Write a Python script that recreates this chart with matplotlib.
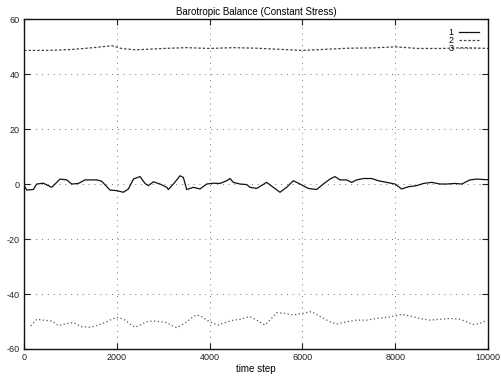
import matplotlib
matplotlib.use("Agg")
import matplotlib.pyplot as plt
import numpy as np

plt.rcParams['font.family'] = ['Liberation Sans', 'DejaVu Sans']
plt.rcParams['axes.unicode_minus'] = False

# series 1 (solid, around 0)
t1 = [0, 57, 201, 273, 417, 596, 776, 920, 1027, 1171, 1315, 1566, 1674, 1853, 1997,
      2141, 2249, 2357, 2500, 2608, 2680, 2788, 2931, 3075, 3111, 3219, 3362, 3434,
      3506, 3650, 3793, 3937, 4081, 4224, 4368, 4440, 4511, 4655, 4799, 4870, 5014,
      5229, 5373, 5517, 5660, 5804, 5948, 6127, 6307, 6451, 6594, 6702, 6810, 6953,
      7061, 7169, 7313, 7492, 7636, 7816, 7995, 8139, 8283, 8462, 8606, 8786, 8966,
      9109, 9289, 9433, 9612, 9756, 9935, 10000]
v1 = [-0.5, -2.2, -2.0, 0.0, 0.3, -1.2, 1.8, 1.5, 0.0, 0.2, 1.5, 1.5, 1.0, -2.2, -2.4,
      -3.0, -1.8, 1.8, 2.7, 0.2, -0.6, 0.8, 0.0, -1.2, -2.0, 0.0, 3.0, 2.4,
      -2.0, -1.2, -1.8, 0.0, 0.3, 0.2, 1.2, 2.0, 0.6, 0.0, -0.2, -1.2, -1.6,
      0.6, -1.2, -3.0, -1.2, 1.2, 0.0, -1.6, -2.0, 0.0, 1.8, 2.7, 1.5, 1.5,
      0.6, 1.5, 2.0, 2.0, 1.2, 0.6, 0.0, -1.8, -1.0, -0.6, 0.2, 0.6, 0.0,
      0.0, 0.2, 0.0, 1.5, 1.8, 1.6, 1.6]

# series 2 (dashed, around 49)
t2 = [0, 500, 1000, 1500, 1900, 2100, 2400, 3000, 3500, 4000, 4500, 5000, 5500,
      6000, 6500, 7000, 7500, 8000, 8500, 9000, 9500, 10000]
v2 = [48.6, 48.6, 48.9, 49.6, 50.3, 49.3, 48.8, 49.3, 49.6, 49.3, 49.6, 49.4, 49.0,
      48.6, 49.0, 49.4, 49.5, 49.9, 49.3, 49.3, 49.6, 49.3]

# series 3 (dotted, around -50)
t3 = [144, 273, 417, 596, 740, 884, 1063, 1243, 1422, 1566, 1782, 1925, 2033, 2177,
      2285, 2393, 2500, 2644, 2788, 2931, 3075, 3183, 3290, 3398, 3506, 3650, 3721,
      3829, 3937, 4081, 4189, 4332, 4512, 4655, 4870, 5014, 5193, 5301, 5445, 5588,
      5804, 6019, 6199, 6379, 6594, 6738, 6953, 7169, 7385, 7600, 7816, 7995, 8139,
      8319, 8534, 8750, 8965, 9181, 9396, 9540, 9684, 9827, 9935]
v3 = [-51.6, -49.2, -49.5, -49.8, -51.5, -50.9, -50.4, -51.9, -52.1, -51.5, -50.1,
      -48.9, -48.5, -49.5, -50.9, -52.1, -51.3, -50.1, -49.8, -50.1, -50.4, -51.5,
      -52.2, -51.3, -50.1, -48.2, -47.6, -48.2, -49.5, -50.7, -51.3, -50.4, -49.5,
      -49.2, -48.2, -49.5, -51.3, -49.5, -46.8, -47.0, -47.6, -47.0, -46.4, -48.2,
      -50.1, -50.9, -50.1, -49.5, -49.5, -48.9, -48.5, -48.0, -47.4, -48.0, -48.9,
      -49.5, -49.2, -48.9, -49.2, -50.1, -51.1, -50.7, -49.9]

xticks = [0, 2000, 4000, 6000, 8000, 10000]
yticks = [-60, -40, -20, 0, 20, 40, 60]

fig = plt.figure(figsize=(5.01, 3.81), dpi=100)
ax = fig.add_axes([0.048, 0.084, 0.926, 0.866])

ax.plot(t1, v1, color='#111111', lw=0.9, label='1')
ax.plot(t2, v2, color='#444444', lw=0.9, ls=(0, (2, 1.5)), label='2')
ax.plot(t3, v3, color='#555555', lw=0.9, ls=(0, (1, 2)), label='3')

ax.set_xlim(0, 10000)
ax.set_ylim(-60, 60)
ax.set_xticks(xticks)
ax.set_yticks(yticks)
ax.grid(True, color='#777777', ls=(0, (1, 5)), lw=0.7)
ax.tick_params(direction='in', length=4, labelsize=6.5, top=True, right=True,
               pad=3, colors='#222222')
for s in ax.spines.values():
    s.set_linewidth(1.0)
    s.set_color('#111111')

ax.set_title('Barotropic Balance (Constant Stress)', fontsize=7, pad=3)
ax.set_xlabel('time step', fontsize=7, labelpad=1)

leg = ax.legend(loc='upper right', frameon=False, fontsize=6.5, markerfirst=False,
                handlelength=2.2, labelspacing=-0.1, borderaxespad=0.6,
                handletextpad=0.6)

fig.savefig('out.png', dpi=100)
